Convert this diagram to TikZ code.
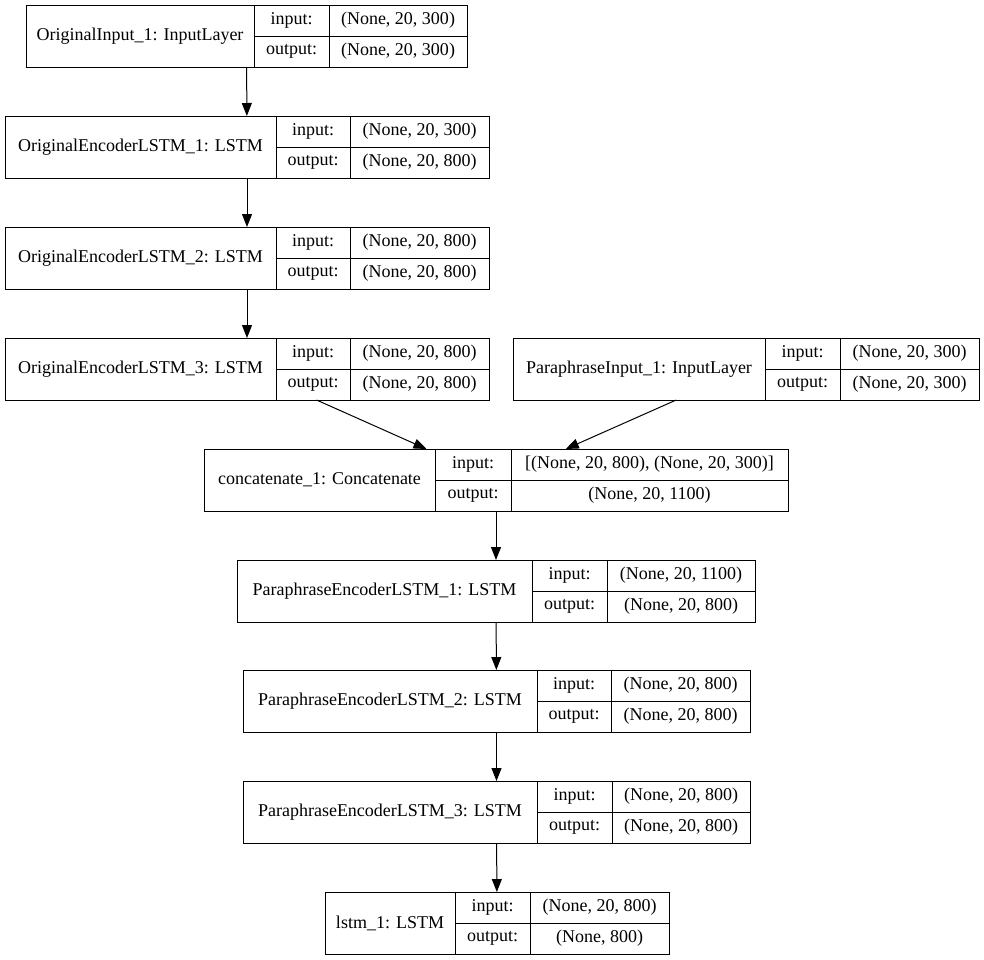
\documentclass[tikz,border=0pt]{standalone}
\usepackage{fontspec}
\setmainfont{Liberation Serif}
\usetikzlibrary{arrows.meta}
\tikzset{
  layerbox/.style={draw, line width=1pt, inner sep=0pt, outer sep=0pt, anchor=north west},
  cell/.style={inner sep=0pt, font=\fontsize{18}{20}\selectfont},
  arr/.style={line width=1pt, -{Triangle[length=13pt,width=10pt]}},
  divider/.style={line width=1pt}
}
\newcommand{\layerbox}[9]{%
  \node[layerbox, minimum width={#3-#2}, minimum height=62] (#1) at (#2,#6) {};
  \draw[divider] (#4,#6) -- (#4,{#6+62});
  \draw[divider] (#5,#6) -- (#5,{#6+62});
  \draw[divider] (#4,{#6+31}) -- (#3,{#6+31});
  \node[cell] (#1-label) at ({(#2+#4)/2},{#6+31}) {#7};
  \node[cell] (#1-inkey) at ({(#4+#5)/2},{#6+15.5}) {input:};
  \node[cell] (#1-outkey) at ({(#4+#5)/2},{#6+46.5}) {output:};
  \node[cell] (#1-inval) at ({(#5+#3)/2},{#6+15.5}) {#8};
  \node[cell] (#1-outval) at ({(#5+#3)/2},{#6+46.5}) {#9};
}
\begin{document}
\begin{tikzpicture}[x=1pt,y=-1pt]
\useasboundingbox (0,0) rectangle (984,959);
\layerbox{n1}{26}{467}{254}{329}{5}{OriginalInput\_1: InputLayer}{(None, 20, 300)}{(None, 20, 300)}
\layerbox{n2}{5}{489}{276}{350}{116}{OriginalEncoderLSTM\_1: LSTM}{(None, 20, 300)}{(None, 20, 800)}
\layerbox{n3}{5}{489}{276}{350}{227}{OriginalEncoderLSTM\_2: LSTM}{(None, 20, 800)}{(None, 20, 800)}
\layerbox{n4}{5}{489}{276}{350}{338}{OriginalEncoderLSTM\_3: LSTM}{(None, 20, 800)}{(None, 20, 800)}
\layerbox{n5}{513}{979}{765}{840}{338}{ParaphraseInput\_1: InputLayer}{(None, 20, 300)}{(None, 20, 300)}
\layerbox{n6}{204}{788}{435}{511}{449}{concatenate\_1: Concatenate}{[(None, 20, 800), (None, 20, 300)]}{(None, 20, 1100)}
\layerbox{n7}{237}{755}{532}{607}{560}{ParaphraseEncoderLSTM\_1: LSTM}{(None, 20, 1100)}{(None, 20, 800)}
\layerbox{n8}{243}{750}{537}{611}{670}{ParaphraseEncoderLSTM\_2: LSTM}{(None, 20, 800)}{(None, 20, 800)}
\layerbox{n9}{243}{750}{537}{612}{781}{ParaphraseEncoderLSTM\_3: LSTM}{(None, 20, 800)}{(None, 20, 800)}
\layerbox{n10}{325}{669}{455}{530}{892}{lstm\_1: LSTM}{(None, 20, 800)}{(None, 800)}
\draw[arr] (n1) -- (n2);
\draw[arr] (n2) -- (n3);
\draw[arr] (n3) -- (n4);
\draw[arr] (n4) -- (n6);
\draw[arr] (n5) -- (n6);
\draw[arr] (n6) -- (n7);
\draw[arr] (n7) -- (n8);
\draw[arr] (n8) -- (n9);
\draw[arr] (n9) -- (n10);
\end{tikzpicture}
\end{document}
